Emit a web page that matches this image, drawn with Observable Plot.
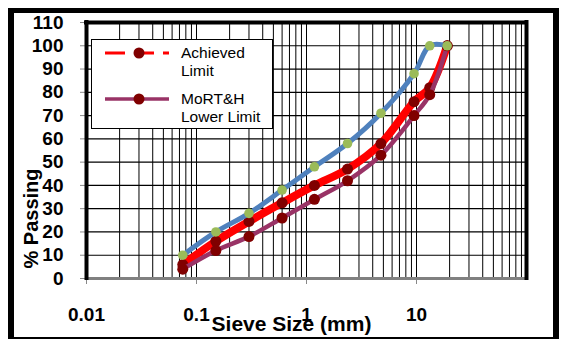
<!DOCTYPE html>
<html>
<head>
<meta charset="utf-8">
<script src="https://cdn.jsdelivr.net/npm/d3@7"></script>
<script src="https://cdn.jsdelivr.net/npm/@observablehq/plot@0.6"></script>
<style>
  body { margin: 0; background: #fff; }
  #wrap { position: relative; width: 564px; height: 339px; overflow: hidden; font-family: "Liberation Sans", Arial, sans-serif; }
  #outer { position: absolute; left: 8px; top: 8px; width: 551px; height: 331px; box-sizing: border-box;
           border-top: 5px solid #000; border-left: 6px solid #000; border-right: 6px solid #000; border-bottom: 2px solid #000; }
  #legend { position: absolute; left: 0; top: 0; pointer-events: none; }
</style>
</head>
<body>
<div id="wrap">
  <div id="chart"></div>
  <div id="outer"></div>
</div>
<script>
// Sieve sizes (mm)
const sieveSizes = [0.075, 0.15, 0.3, 0.6, 1.18, 2.36, 4.75, 9.5, 13.2, 19];
// % passing
const achieved   = [6, 16, 24.5, 32.5, 40, 47, 58, 76, 82, 100];
const lowerLimit = [4, 12, 18, 26, 34, 42, 53, 70, 79, 100];
const upperLimit = [10, 20, 28, 38, 48, 58, 71, 88, 100, 100];
// Axis ticks
const yTicks = [0, 10, 20, 30, 40, 50, 60, 70, 80, 90, 100, 110];
const xTicks = [0.01, 0.1, 1, 10];
const xTickLabels = ["0.01", "0.1", "1", "10"];
const legendFirst = ["Achieved", "MoRT&H"];
const legendSecond = ["Limit", "Lower Limit"];

// log grid lines (1..9 per decade)
const gridX = [];
[0.01, 0.1, 1, 10].forEach(dec => { for (let k = 2; k <= 9; k++) gridX.push(dec * k); });
[0.1, 1, 10].forEach(v => gridX.push(v));

const rows = (vals) => sieveSizes.map((s, i) => ({size: s, pass: vals[i]}));
const achRows = rows(achieved), lowRows = rows(lowerLimit), upRows = rows(upperLimit);

const font = "Liberation Sans, Arial, sans-serif";

const chart = Plot.plot({
  width: 564,
  height: 339,
  marginLeft: 86,
  marginRight: 38,
  marginTop: 22,
  marginBottom: 61,
  x: {type: "log", domain: [0.01, 100]},
  y: {domain: [0, 110]},
  style: {fontFamily: font, background: "transparent", color: "#000"},
  marks: [
    Plot.ruleX(gridX, {stroke: "#000", strokeWidth: 1}),
    Plot.ruleY(yTicks.slice(1, -1), {stroke: "#000", strokeWidth: 1.2}),
    Plot.axisY({ticks: yTicks, tickSize: 6, tickPadding: 17, stroke: "#888", fill: "#000",
                fontSize: 19, fontWeight: "bold", label: null, tickFormat: d => String(d)}),
    Plot.axisX({ticks: xTicks, tickSize: 6, tickPadding: 23, stroke: "#888", fill: "#000",
                fontSize: 19, fontWeight: "bold", label: null,
                tickFormat: d => xTickLabels[xTicks.indexOf(d)]}),
    Plot.ruleY([0], {stroke: "#808080", strokeWidth: 3}),
    Plot.ruleY([110], {stroke: "#000", strokeWidth: 4, strokeLinecap: "square"}),
    Plot.ruleX([0.01], {stroke: "#000", strokeWidth: 4, strokeLinecap: "square"}),
    Plot.ruleX([100], {stroke: "#000", strokeWidth: 4, strokeLinecap: "square"}),
    // series
    Plot.line(achRows, {x: "size", y: "pass", stroke: "#ff0000", strokeWidth: 8, curve: "catmull-rom"}),
    Plot.dot(achRows, {x: "size", y: "pass", r: 5.5, fill: "#800000", stroke: "none"}),
    Plot.line(lowRows, {x: "size", y: "pass", stroke: "#993366", strokeWidth: 4.5, curve: "catmull-rom"}),
    Plot.dot(lowRows, {x: "size", y: "pass", r: 5.5, fill: "#800000", stroke: "none"}),
    Plot.line(upRows, {x: "size", y: "pass", stroke: "#4f81bd", strokeWidth: 5, curve: "catmull-rom"}),
    Plot.dot(upRows, {x: "size", y: "pass", r: 4.8, fill: "#9bbb59", stroke: "none"}),
    // axis titles
    Plot.text(["Sieve Size (mm)"], {text: d => d, frameAnchor: "bottom", dx: -15, dy: 52,
              fontSize: 21, fontWeight: "bold", fill: "#000"}),
    Plot.text(["% Passing"], {text: d => d, frameAnchor: "left", rotate: -90, dx: -54.5, dy: 118,
              fontSize: 20, fontWeight: "bold", fill: "#000"})
  ]
});
document.getElementById("chart").appendChild(chart);

// Legend overlay
const lg = d3.select("#wrap").append("svg").attr("id", "legend").attr("width", 564).attr("height", 339);
lg.append("rect").attr("x", 91.5).attr("y", 39.5).attr("width", 181).attr("height", 89)
  .attr("fill", "#fff").attr("stroke", "#000").attr("stroke-width", 1);
const items = [
  {stroke: "#ff0000", dash: "20,9", width: 3, y: 53},
  {stroke: "#993366", dash: null, width: 3.5, y: 99}
];
items.forEach((it, i) => {
  const l = lg.append("line").attr("x1", 105).attr("x2", 169).attr("y1", it.y).attr("y2", it.y)
    .attr("stroke", it.stroke).attr("stroke-width", it.width);
  if (it.dash) l.attr("stroke-dasharray", it.dash);
  lg.append("circle").attr("cx", 139).attr("cy", it.y).attr("r", 5.5).attr("fill", "#800000");
  const t = lg.append("text").attr("x", 181).attr("y", it.y).attr("font-size", 15.5)
    .attr("font-family", font).attr("fill", "#000");
  t.append("tspan").attr("x", 181).attr("dy", "0.35em").text(legendFirst[i]);
  t.append("tspan").attr("x", 181).attr("dy", "1.15em").text(legendSecond[i]);
});
</script>
</body>
</html>
